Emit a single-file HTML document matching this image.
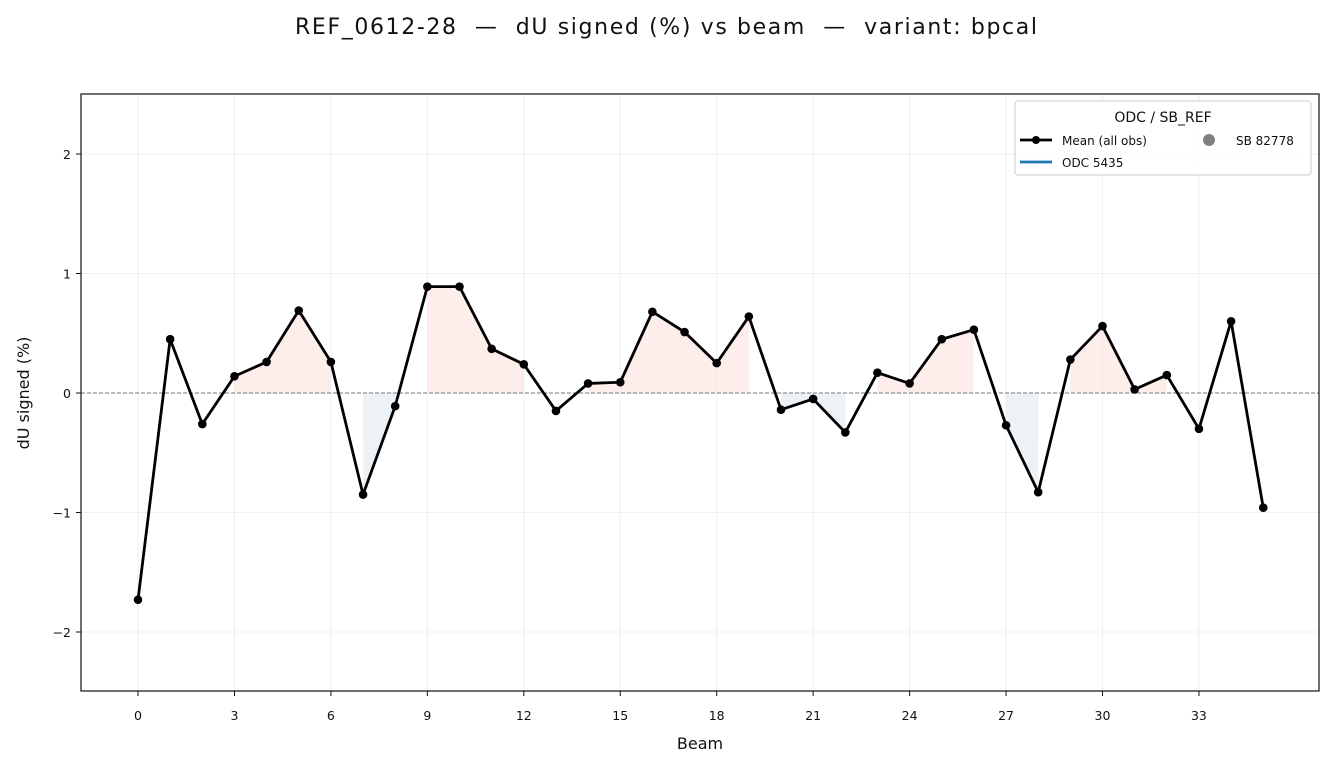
<!DOCTYPE html>
<html><head><meta charset="utf-8"><style>
body{margin:0;background:#fff;}
svg text{font-family:"DejaVu Sans","Liberation Sans",sans-serif;}
</style></head><body>
<svg id="s" width="1334" height="767" xmlns="http://www.w3.org/2000/svg">
<rect width="1334" height="767" fill="#fff"/>
<text x="295" y="34" font-size="22" fill="#111" style="white-space:pre" textLength="742" lengthAdjust="spacing">REF_0612-28  —  dU signed (%) vs beam  —  variant: bpcal</text>
<g id="grid"></g>
<g id="fill"></g>
<line x1="81" x2="1319" y1="393" y2="393" stroke="#777" stroke-dasharray="4,2" stroke-width="0.9"/>
<g id="line"></g>
<rect x="81" y="94" width="1238" height="597" fill="none" stroke="#111" stroke-width="1.2"/>
<g id="ticks" font-size="12.5" fill="#111"></g>
<text x="700" y="749" font-size="16" text-anchor="middle" fill="#111">Beam</text>
<text transform="translate(29,393) rotate(-90)" font-size="16" text-anchor="middle" fill="#111">dU signed (%)</text>
<g>
<rect x="1015" y="101" width="296" height="74" rx="3" fill="#fff" fill-opacity="0.9" stroke="#ccc"/>
<text x="1163" y="122" font-size="14" text-anchor="middle" fill="#111">ODC / SB_REF</text>
<line x1="1020" x2="1052" y1="140" y2="140" stroke="#000" stroke-width="2.8"/>
<circle cx="1036" cy="140" r="4" fill="#000"/>
<text x="1062" y="145" font-size="12" fill="#111">Mean (all obs)</text>
<circle cx="1209" cy="140" r="6" fill="#808080"/>
<text x="1236" y="145" font-size="12" fill="#111">SB 82778</text>
<line x1="1020" x2="1052" y1="162" y2="162" stroke="#1f77b4" stroke-width="2.8"/>
<text x="1062" y="167" font-size="12" fill="#111">ODC 5435</text>
</g>
</svg>
<script>
var v=[-1.73,0.45,-0.26,0.14,0.26,0.69,0.26,-0.85,-0.11,0.89,0.89,0.37,0.24,-0.15,0.08,0.09,0.68,0.51,0.25,0.64,-0.14,-0.05,-0.33,0.17,0.08,0.45,0.53,-0.27,-0.83,0.28,0.56,0.03,0.15,-0.30,0.60,-0.96];
function X(i){return 138+i*32.15;}function Y(y){return 393-y*119.5;}
var ns="http://www.w3.org/2000/svg";
function el(p,t,a){var e=document.createElementNS(ns,t);for(var k in a)e.setAttribute(k,a[k]);document.getElementById(p).appendChild(e);return e;}
for(var i=0;i<=33;i+=3){el("grid","line",{x1:X(i),x2:X(i),y1:94,y2:691,stroke:"#ebebeb","stroke-width":0.8});
el("ticks","line",{x1:X(i),x2:X(i),y1:691,y2:696,stroke:"#111"});
var t=el("ticks","text",{x:X(i),y:720,"text-anchor":"middle"});t.textContent=i;}
for(var y=-2;y<=2;y++){el("grid","line",{x1:81,x2:1319,y1:Y(y),y2:Y(y),stroke:"#ebebeb","stroke-width":0.8});
el("ticks","line",{x1:76,x2:81,y1:Y(y),y2:Y(y),stroke:"#111"});
var t=el("ticks","text",{x:71,y:Y(y)+5,"text-anchor":"end"});t.textContent=(y<0?"\u2212"+(-y):y);}
for(var s=0;s<2;s++){var pos=s==0;var run=[];
for(var i=0;i<=v.length;i++){var ok=i<v.length&&(pos?v[i]>0:v[i]<0);
if(ok)run.push(i);else{if(run.length){var a=run[0],b=run[run.length-1];
var pts=X(a)+",393 ";run.forEach(function(j){pts+=X(j)+","+Y(v[j])+" ";});pts+=X(b)+",393";
el("fill","polygon",{points:pts,fill:pos?"#fbe3dd":"#dfe9f0","fill-opacity":0.6});}run=[];}}}
var p="";v.forEach(function(y,i){p+=X(i)+","+Y(y)+" ";});
el("line","polyline",{points:p,fill:"none",stroke:"#000","stroke-width":2.8,"stroke-linejoin":"round"});
v.forEach(function(y,i){el("line","circle",{cx:X(i),cy:Y(y),r:4.3,fill:"#000"});});
</script>
</body></html>
